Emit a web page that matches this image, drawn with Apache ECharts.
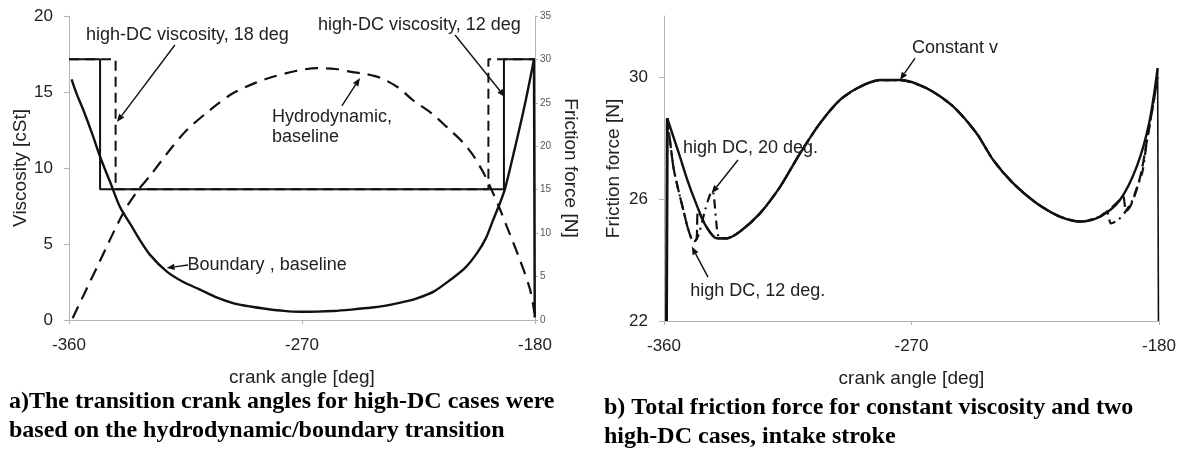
<!DOCTYPE html>
<html><head><meta charset="utf-8">
<script src="https://cdn.jsdelivr.net/npm/echarts@6/dist/echarts.min.js"></script>
<style>html,body{margin:0;padding:0;background:#fff}#c{width:1184px;height:450px}</style>
</head><body><div id="c"></div>
<script>
// ---------- data ----------
const xTickValues = [-360, -270, -180];
// left chart: viscosity steps [deg, cSt]
const viscosity12 = [[-360,17.15],[-348,17.15],[-348,8.6],[-192,8.6],[-192,17.15],[-180,17.15]];
const viscosity18 = [[-360,17.15],[-342,17.15],[-342,8.6],[-198,8.6],[-198,17.15],[-180,17.15]];
// left chart: friction force [deg, N]
const hydroBaseline = [[-358.6,0.2],[-349,6.2],[-339.1,12.3],[-333.7,14.8],[-328.7,16.6],[-321,19.6],[-314.4,21.9],[-305,24.3],[-296.7,26.1],[-288,27.3],[-281.2,28.0],[-272,28.7],[-264.2,29.0],[-257,28.9],[-251.5,28.6],[-245,28.3],[-239.9,27.9],[-233,26.8],[-227.1,25.3],[-220,23.8],[-214,22.2],[-208,20.5],[-204,19.0],[-200,17.0],[-197.4,15.4],[-194,13.1],[-190.8,10.7],[-185.8,6.9],[-181.9,3.5],[-180.2,0.8]];
const boundaryBaseline = [[-359,27.7],[-357,26.0],[-354.5,24.2],[-351,21.4],[-348,18.8],[-344,15.8],[-340.3,13.0],[-336,10.9],[-332.6,9.2],[-328.7,7.5],[-322.3,5.6],[-316,4.4],[-309.4,3.5],[-303,2.6],[-296.7,1.95],[-290,1.55],[-283.5,1.27],[-277,1.05],[-270.8,0.95],[-264,0.97],[-258,1.04],[-251,1.2],[-244.9,1.38],[-238.7,1.6],[-232,2.0],[-225.6,2.5],[-219,3.3],[-212.8,4.6],[-207,6.0],[-202.4,7.7],[-199,9.4],[-196.2,11.5],[-193.5,13.5],[-191.6,15.1],[-188,19.5],[-184,24.7],[-180.4,30]];
const boundaryDrop = [[-180.4,30],[-180.1,0.3]];
// right chart: total friction force [deg, N]
const constantV = [[-358.8,28.64],[-357.0,28.15],[-354.6,27.5],[-351.5,26.62],[-348.1,25.8],[-344.7,25.1],[-340.8,24.71],[-337.2,24.71],[-332.4,24.93],[-325.1,25.53],[-317.8,26.40],[-310.5,27.50],[-303.3,28.48],[-296.0,29.25],[-288.7,29.68],[-281.5,29.90],[-274.2,29.90],[-264.5,29.63],[-254.8,29.03],[-246.3,28.15],[-240.3,27.28],[-233.0,26.51],[-224.5,25.86],[-216.0,25.42],[-208.7,25.26],[-201.5,25.42],[-194.2,25.97],[-188.1,27.06],[-183.6,28.48],[-180.5,30.29]];
const constantVStart = [[-359.1,22],[-358.8,28.64]];
const constantVEnd = [[-180.5,30.29],[-180.2,22]];
const highDC12 = [[-358.8,28.64],[-357.8,27.9],[-356.5,27.0],[-354.8,26.3],[-353,25.65],[-351.5,25.1],[-350,24.7],[-348.8,24.62],[-348.1,24.72],[-347.6,25.6],[-344.7,25.1],[-340.8,24.71],[-337.2,24.71],[-332.4,24.93],[-325.1,25.53],[-317.8,26.40],[-310.5,27.50],[-303.3,28.48],[-296.0,29.25],[-288.7,29.68],[-281.5,29.90],[-274.2,29.90],[-264.5,29.63],[-254.8,29.03],[-246.3,28.15],[-240.3,27.28],[-233.0,26.51],[-224.5,25.86],[-216.0,25.42],[-208.7,25.26],[-201.5,25.42],[-194.2,25.97],[-193,26.1],[-192,25.6],[-190.5,25.75],[-188.5,26.2],[-186.5,26.85],[-184.4,27.9],[-182.5,28.9],[-181.2,29.6],[-180.6,30.0]];
const highDC20 = [[-358.8,28.64],[-357.8,27.9],[-356.5,27.0],[-354.8,26.3],[-353,25.65],[-351.5,25.1],[-350,24.7],[-348.8,24.62],[-347.8,24.75],[-347,24.95],[-346,25.3],[-345,25.65],[-344,25.95],[-343,26.2],[-342.3,26.25],[-340.5,24.85],[-339.5,24.72],[-337.2,24.71],[-332.4,24.93],[-325.1,25.53],[-317.8,26.40],[-310.5,27.50],[-303.3,28.48],[-296.0,29.25],[-288.7,29.68],[-281.5,29.90],[-274.2,29.90],[-264.5,29.63],[-254.8,29.03],[-246.3,28.15],[-240.3,27.28],[-233.0,26.51],[-224.5,25.86],[-216.0,25.42],[-208.7,25.26],[-201.5,25.42],[-199,25.6],[-197.5,25.2],[-195,25.3],[-192.5,25.55],[-190,25.9],[-187.5,26.5],[-186,26.9],[-184.4,27.9],[-182.5,28.9],[-181.2,29.6],[-180.6,30.0]];

// ---------- styling / layout ----------
const SANS = '"Liberation Sans", Arial, sans-serif';
const SERIF = '"Liberation Serif", "Times New Roman", serif';
const INK = '#111';
const AX = '#b4b4b4';
const TXT = '#222';

const chart = echarts.init(document.getElementById('c'), null, {renderer: 'canvas'});

function xAxisCfg(gi) {
  return {
    gridIndex: gi, type: 'value', min: -360, max: -180, interval: 90,
    name: 'crank angle [deg]', nameLocation: 'middle', nameGap: 48,
    nameTextStyle: {fontFamily: SANS, fontSize: 19, color: TXT},
    axisLine: {lineStyle: {color: AX}}, axisTick: {lineStyle: {color: AX}, length: 4},
    axisLabel: {fontFamily: SANS, fontSize: 17, color: TXT, margin: 17,
      customValues: xTickValues},
    splitLine: {show: false}
  };
}
function lineSeries(name, xi, yi, data, opts) {
  return Object.assign({
    name, type: 'line', xAxisIndex: xi, yAxisIndex: yi, data,
    showSymbol: false, symbol: 'none', smooth: 0.3, animation: false,
    lineStyle: {color: INK, width: 2.2, type: 'solid'}, z: 3
  }, opts || {});
}

const option = {
  animation: false,
  backgroundColor: '#fff',
  title: [
    {text: 'a)The transition crank angles for high-DC cases were\nbased on the hydrodynamic/boundary transition',
     left: 4, top: 383,
     textStyle: {fontFamily: SERIF, fontWeight: 'bold', fontSize: 24, lineHeight: 28.5, color: '#000'}},
    {text: 'b) Total friction force for constant viscosity and two\nhigh-DC cases, intake stroke',
     left: 599, top: 389,
     textStyle: {fontFamily: SERIF, fontWeight: 'bold', fontSize: 24, lineHeight: 28.5, color: '#000'}}
  ],
  grid: [
    {left: 69, top: 16, width: 466, height: 304},
    {left: 664, top: 16, width: 495, height: 305}
  ],
  xAxis: [xAxisCfg(0), xAxisCfg(1)],
  yAxis: [
    {gridIndex: 0, type: 'value', min: 0, max: 20, interval: 5, position: 'left',
     name: 'Viscosity [cSt]', nameLocation: 'middle', nameGap: 39, nameRotate: 90,
     nameTextStyle: {fontFamily: SANS, fontSize: 19, color: TXT},
     axisLine: {show: true, lineStyle: {color: AX}}, axisTick: {show: true, length: 5, lineStyle: {color: AX}},
     axisLabel: {fontFamily: SANS, fontSize: 17, color: TXT, margin: 16},
     splitLine: {show: false}},
    {gridIndex: 0, type: 'value', min: 0, max: 35, interval: 5, position: 'right',
     name: 'Friction force [N]', nameLocation: 'middle', nameGap: 26, nameRotate: -90,
     nameTextStyle: {fontFamily: SANS, fontSize: 19, color: TXT},
     axisLine: {show: true, lineStyle: {color: AX}}, axisTick: {show: true, length: 3, lineStyle: {color: AX}},
     axisLabel: {fontFamily: SANS, fontSize: 10, color: '#555', margin: 5},
     splitLine: {show: false}},
    {gridIndex: 1, type: 'value', min: 22, max: 32, interval: 4, position: 'left',
     name: 'Friction force [N]', nameLocation: 'middle', nameGap: 41, nameRotate: 90,
     nameTextStyle: {fontFamily: SANS, fontSize: 19, color: TXT},
     axisLine: {show: true, lineStyle: {color: AX}}, axisTick: {show: true, length: 5, lineStyle: {color: AX}},
     axisLabel: {fontFamily: SANS, fontSize: 17, color: TXT, margin: 16, showMaxLabel: false},
     splitLine: {show: false}}
  ],
  series: [
    lineSeries('viscosity 12 deg', 0, 0, viscosity12, {smooth: false, lineStyle: {color: INK, width: 2, type: 'solid'}}),
    lineSeries('viscosity 18 deg', 0, 0, viscosity18, {smooth: false, lineStyle: {color: INK, width: 2, type: [10, 6]}}),
    lineSeries('Hydrodynamic, baseline', 0, 1, hydroBaseline, {lineStyle: {color: INK, width: 2.2, type: [13, 8]}}),
    lineSeries('Boundary, baseline', 0, 1, boundaryBaseline, {lineStyle: {color: INK, width: 2.4}}),
    lineSeries('Boundary drop', 0, 1, boundaryDrop, {smooth: false, lineStyle: {color: INK, width: 2.4}}),
    lineSeries('high DC, 12 deg.', 1, 2, highDC12, {smooth: 0.25, lineStyle: {color: INK, width: 2.2, type: [11, 5]}}),
    lineSeries('high DC, 20 deg.', 1, 2, highDC20, {smooth: 0.25, lineStyle: {color: INK, width: 2.2, type: [9, 5, 2, 5]}}),
    lineSeries('Constant v', 1, 2, constantV, {lineStyle: {color: INK, width: 2.4}}),
    lineSeries('Constant v start', 1, 2, constantVStart, {smooth: false, lineStyle: {color: INK, width: 3}}),
    lineSeries('Constant v end', 1, 2, constantVEnd, {smooth: false, lineStyle: {color: INK, width: 1.6}})
  ]
};
chart.setOption(option);

// ---------- annotations (anchored in data coordinates) ----------
const notes = [
  {xi: 0, yi: 0, text: 'high-DC viscosity, 18 deg', at: [-353.4, 18.75], from: [-319.1, 18.09], to: [-341.5, 13.03]},
  {xi: 0, yi: 0, text: 'high-DC viscosity, 12 deg', at: [-263.8, 19.4], from: [-210.9, 18.75], to: [-191.6, 14.67]},
  {xi: 0, yi: 0, text: 'Hydrodynamic,\nbaseline', at: [-281.6, 12.7], from: [-254.6, 14.08], to: [-247.6, 15.92]},
  {xi: 0, yi: 0, text: 'Boundary , baseline', at: [-314.2, 3.62], from: [-314.0, 3.62], to: [-322.3, 3.42]},
  {xi: 1, yi: 2, text: 'Constant v', at: [-269.8, 30.94], from: [-268.7, 30.62], to: [-274.2, 29.9]},
  {xi: 1, yi: 2, text: 'high DC, 20 deg.', at: [-353.1, 27.67], from: [-333.1, 27.28], to: [-342.7, 26.19]},
  {xi: 1, yi: 2, text: 'high DC, 12 deg.', at: [-350.5, 22.98], from: [-344.0, 23.44], to: [-349.9, 24.44]}
];
const els = [];
notes.forEach(n => {
  const f = {xAxisIndex: n.xi, yAxisIndex: n.yi};
  const a = chart.convertToPixel(f, n.at);
  const p = chart.convertToPixel(f, n.from);
  const q = chart.convertToPixel(f, n.to);
  els.push({type: 'text', x: a[0], y: a[1], z: 10, silent: true,
    style: {text: n.text, fill: TXT, font: '18px ' + SANS, lineHeight: 20,
      align: 'left', verticalAlign: 'middle', textAlign: 'left', textVerticalAlign: 'middle'}});
  const dx = q[0] - p[0], dy = q[1] - p[1];
  const L = Math.hypot(dx, dy) || 1, ux = dx / L, uy = dy / L;
  const hl = 8, hw = 3.2;
  const bx = q[0] - ux * hl, by = q[1] - uy * hl;
  els.push({type: 'line', z: 10, silent: true,
    shape: {x1: p[0], y1: p[1], x2: bx, y2: by}, style: {stroke: INK, lineWidth: 1.4}});
  els.push({type: 'polygon', z: 10, silent: true,
    shape: {points: [[q[0], q[1]], [bx - uy * hw, by + ux * hw], [bx + uy * hw, by - ux * hw]]},
    style: {fill: INK}});
});
chart.setOption({graphic: {elements: els}});
</script>
</body></html>
